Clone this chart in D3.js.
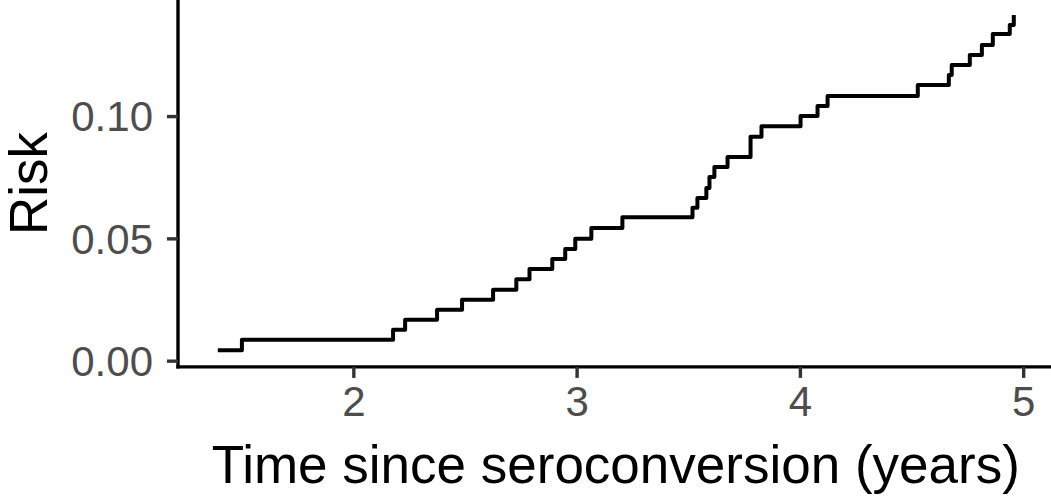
<!DOCTYPE html>
<html>
<head>
<meta charset="utf-8">
<script src="https://cdn.jsdelivr.net/npm/d3@7"></script>
<style>
  html, body { margin: 0; padding: 0; background: #ffffff; }
  svg { display: block; }
  text { font-family: "Liberation Sans", Arial, Helvetica, sans-serif; }
</style>
</head>
<body>
<svg id="chart" width="1051" height="496"></svg>
<script>
// Cumulative risk: event times (years since seroconversion) and risk after each event
const eventTimes = [
  1.393, 1.501, 2.178, 2.232, 2.375, 2.487, 2.626, 2.730, 2.789, 2.891,
  2.949, 2.994, 3.066, 3.205, 3.519, 3.541, 3.581, 3.595, 3.617, 3.676,
  3.779, 3.828, 4.003, 4.079, 4.124, 4.528, 4.667, 4.680, 4.761, 4.815,
  4.864, 4.940, 4.958
];
const riskValues = [
  0.0043, 0.0085, 0.0126, 0.0167, 0.0208, 0.0249, 0.0290, 0.0333, 0.0375, 0.0416,
  0.0457, 0.0498, 0.0542, 0.0586, 0.0625, 0.0665, 0.0706, 0.0751, 0.0792, 0.0833,
  0.0915, 0.0958, 0.1000, 0.1041, 0.1082, 0.1127, 0.1168, 0.1209, 0.1250, 0.1291,
  0.1336, 0.1372, 0.1413
];
const xTickValues = [2, 3, 4, 5];
const xTickLabels = ["2", "3", "4", "5"];
const yTickValues = [0, 0.05, 0.10];
const yTickLabels = ["0.00", "0.05", "0.10"];
const xTitle = "Time since seroconversion (years)";
const yTitle = "Risk";

const data = eventTimes.map((t, i) => ({ t: t, r: riskValues[i] }));

// Panel bounds
const panel = { left: 178, right: 1053.6, top: -1.7, bottom: 366.9 };

// Domains padded by 5% on each side
function expand(ext, f) {
  const d = (ext[1] - ext[0]) * f;
  return [ext[0] - d, ext[1] + d];
}
const x = d3.scaleLinear()
  .domain(expand(d3.extent(eventTimes), 0.05))
  .range([panel.left, panel.right]);
const y = d3.scaleLinear()
  .domain(expand(d3.extent(riskValues), 0.05))
  .range([panel.bottom, panel.top]);

const svg = d3.select("#chart");

// Step curve of cumulative risk
const line = d3.line()
  .x(d => x(d.t))
  .y(d => y(d.r))
  .curve(d3.curveStepAfter);

svg.append("path")
  .datum(data)
  .attr("fill", "none")
  .attr("stroke", "#000000")
  .attr("stroke-width", 4)
  .attr("stroke-linejoin", "round")
  .attr("d", line);

// Axes
const tickColor = "#333333";
const labelColor = "#4D4D4D";

const xAxis = d3.axisBottom(x)
  .tickValues(xTickValues)
  .tickFormat((d, i) => xTickLabels[i])
  .tickSize(11)
  .tickSizeOuter(0);

const gx = svg.append("g")
  .attr("transform", `translate(0,${panel.bottom})`)
  .call(xAxis);
gx.select(".domain")
  .attr("d", `M${panel.left - 1.7},0H${panel.right}`)
  .attr("stroke", "#000000")
  .attr("stroke-width", 3.4);
gx.selectAll(".tick line")
  .attr("stroke", tickColor)
  .attr("stroke-width", 3.4);
gx.selectAll(".tick text")
  .attr("y", 49)
  .attr("dy", null)
  .attr("fill", labelColor)
  .attr("font-size", 42)
  .attr("font-family", "Liberation Sans, Arial, sans-serif");

const yAxis = d3.axisLeft(y)
  .tickValues(yTickValues)
  .tickFormat((d, i) => yTickLabels[i])
  .tickSize(11)
  .tickSizeOuter(0);

const gy = svg.append("g")
  .attr("transform", `translate(${panel.left},0)`)
  .call(yAxis);
gy.select(".domain")
  .attr("d", `M0,${panel.top}V${panel.bottom + 1.7}`)
  .attr("stroke", "#000000")
  .attr("stroke-width", 3.4);
gy.selectAll(".tick line")
  .attr("stroke", tickColor)
  .attr("stroke-width", 3.4);
gy.selectAll(".tick text")
  .attr("x", -25)
  .attr("dy", "0.35em")
  .attr("fill", labelColor)
  .attr("font-size", 42)
  .attr("font-family", "Liberation Sans, Arial, sans-serif");

// Axis titles
svg.append("text")
  .attr("x", (panel.left + panel.right) / 2)
  .attr("y", 483)
  .attr("text-anchor", "middle")
  .attr("font-size", 53)
  .attr("fill", "#000000")
  .text(xTitle);

svg.append("text")
  .attr("transform", `translate(47,${(0 + panel.bottom) / 2}) rotate(-90)`)
  .attr("text-anchor", "middle")
  .attr("font-size", 53)
  .attr("fill", "#000000")
  .text(yTitle);
</script>
</body>
</html>
